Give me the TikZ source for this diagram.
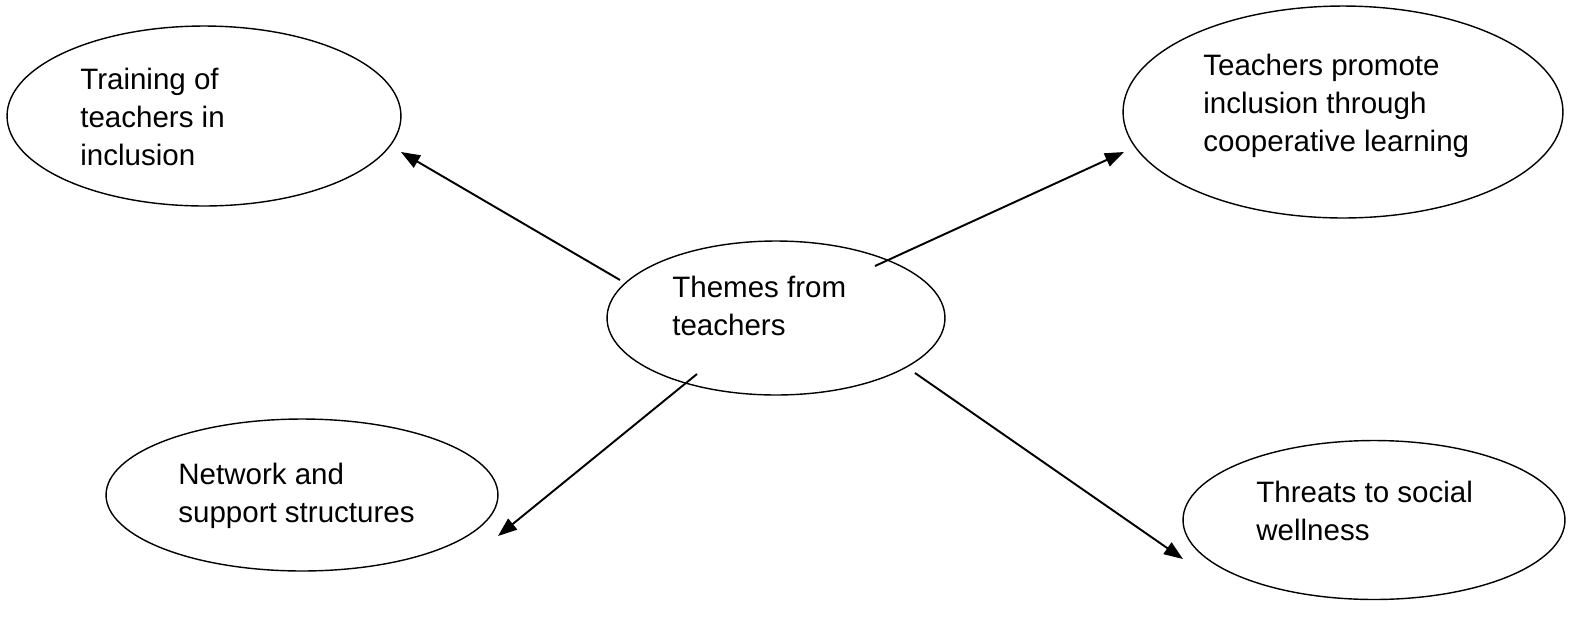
\documentclass[tikz,border=0pt]{standalone}
\usepackage{fontspec}
\setmainfont{Liberation Sans}
\usetikzlibrary{shapes.geometric,arrows.meta}

\tikzset{
  theme/.style={draw, ellipse, line width=0.8pt, inner sep=0pt},
  themetext/.style={anchor=base west, align=left, inner sep=0pt,
    font=\fontsize{16.8}{21.6}\selectfont},
  themearrow/.style={line width=1.1pt, -{Triangle[length=0.38cm,width=0.28cm]}}
}

\begin{document}
\begin{tikzpicture}[x=0.02cm, y=-0.02cm]
\useasboundingbox (0,0) rectangle (1569,620);

% Ellipsen
\node[theme, minimum width=7.88cm, minimum height=3.6cm] (training) at (204,116) {};
\node[theme, minimum width=8.8cm, minimum height=4.24cm] (coop) at (1343,112) {};
\node[theme, minimum width=6.76cm, minimum height=3.08cm] (themes) at (776,318) {};
\node[theme, minimum width=7.84cm, minimum height=3.04cm] (network) at (302,495) {};
\node[theme, minimum width=7.64cm, minimum height=3.18cm] (threats) at (1374,520) {};

% Texte (Grundlinie der letzten Zeile)
\node[themetext] (trainingtxt) at (80,165) {Training of\\teachers in\\inclusion};
\node[themetext] (cooptxt) at (1203,151) {Teachers promote\\inclusion through\\cooperative learning};
\node[themetext] (themestxt) at (672,335) {Themes from\\teachers};
\node[themetext] (networktxt) at (178,522) {Network and\\support structures};
\node[themetext] (threatstxt) at (1256,540) {Threats to social\\wellness};

% Pfeilenden
\coordinate (s1) at (620,280);
\coordinate (e1) at (401,152);
\coordinate (s2) at (875,266);
\coordinate (e2) at (1124,152);
\coordinate (s3) at (697,374);
\coordinate (e3) at (498,536);
\coordinate (s4) at (915,373);
\coordinate (e4) at (1183,559);

% Pfeile
\draw[themearrow] (s1) -- (e1);
\draw[themearrow] (s2) -- (e2);
\draw[themearrow] (s3) -- (e3);
\draw[themearrow] (s4) -- (e4);
\end{tikzpicture}
\end{document}
